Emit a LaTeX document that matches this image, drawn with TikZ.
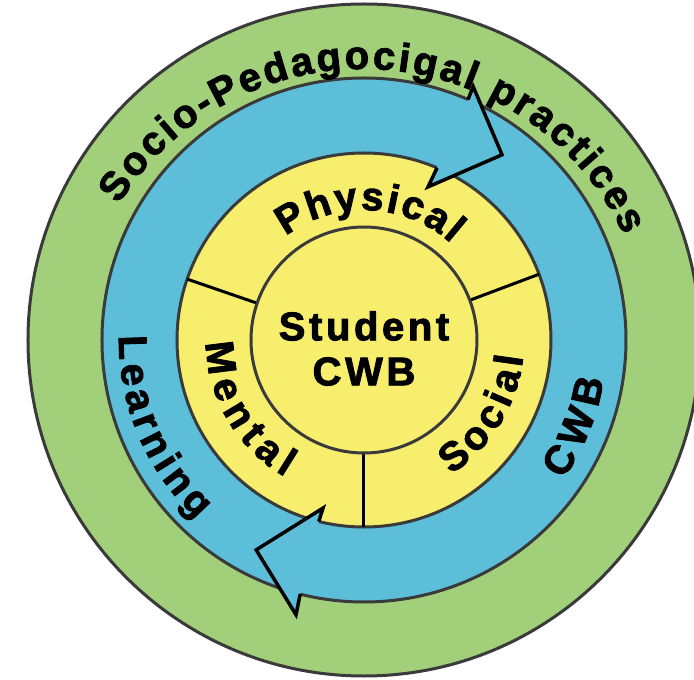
\documentclass[tikz,border=0pt]{standalone}
\usepackage{fontspec}
\setmainfont{Liberation Sans}[BoldFeatures={FakeBold=2.2}]
\newfontfamily\spacedfont{Liberation Sans}[LetterSpace=9, BoldFeatures={FakeBold=2.2}]
\usetikzlibrary{decorations.text}

\definecolor{ringgreen}{HTML}{A2D07A}
\definecolor{ringblue}{HTML}{5DBED9}
\definecolor{ringyellow}{HTML}{F8EE6E}
\definecolor{rimgray}{HTML}{3A3A3A}

\newcommand\labfont{\fontsize{40}{45}\selectfont\bfseries}

\begin{document}
\begin{tikzpicture}[x=1pt,y=1pt,
  rim/.style={draw=rimgray, line width=3pt},
  divider/.style={draw=black, line width=3pt},
  headline/.style={draw=black, line width=3.5pt, line join=miter},
  arclabel/.style={decorate,
    decoration={text along path, text={|\labfont|#1}, text align={fit to path}}}
]
\useasboundingbox (-364,-340) rectangle (330,340);
\clip (-364,-340) rectangle (330,340);
\fill[white] (-364,-340) rectangle (330,340);

% concentric rings
\path[rim, fill=ringgreen]  (0,0) circle[radius=336];
\path[rim, fill=ringblue]   (0,0) circle[radius=262];
\path[rim, fill=ringyellow] (0,0) circle[radius=187];

% sector dividers of the yellow ring
\draw[divider] (20.6:113) -- (20.6:187);
\draw[divider] (161:113) -- (161:187);
\draw[divider] (270:113) -- (270:187);

\path[rim] (0,0) circle[radius=113];

% arrow head at the top right (clockwise)
\fill[ringblue] (66.6:262) -- (66.7:276) -- (53.3:231) -- (67.3:166) -- (67:187) -- cycle;
\draw[headline] (66.6:262) -- (66.7:276) -- (53.3:231) -- (67.3:166) -- (67:187);

% arrow head at the bottom left (clockwise)
\fill[ringblue] (255.9:262) -- (256.1:283) -- (242.8:236) -- (256.3:173) -- (256:187) -- cycle;
\draw[headline] (255.9:262) -- (256.1:283) -- (242.8:236) -- (256.3:173) -- (256:187);

% curved labels
\path[arclabel={Socio-Pedagocigal practices}]
  (-1,-17) ++(148:288) arc[start angle=148, end angle=25, radius=288];
\path[arclabel={Physical}]
  (127:130) arc[start angle=127, end angle=48, radius=130];
\path[arclabel={Mental}]
  (181:158) arc[start angle=181, end angle=240, radius=158];
\path[arclabel={Social}]
  (303:160) arc[start angle=303, end angle=354, radius=160];
\path[arclabel={Learning}]
  (179:245) arc[start angle=179, end angle=227, radius=245];
\path[arclabel={CWB}]
  (325:243) arc[start angle=325, end angle=350.6, radius=243];

% centre label
\node[font=\spacedfont\labfont, align=center, inner sep=0pt] (core) at (0,-8.5) {Student\\CWB};
\end{tikzpicture}
\end{document}
